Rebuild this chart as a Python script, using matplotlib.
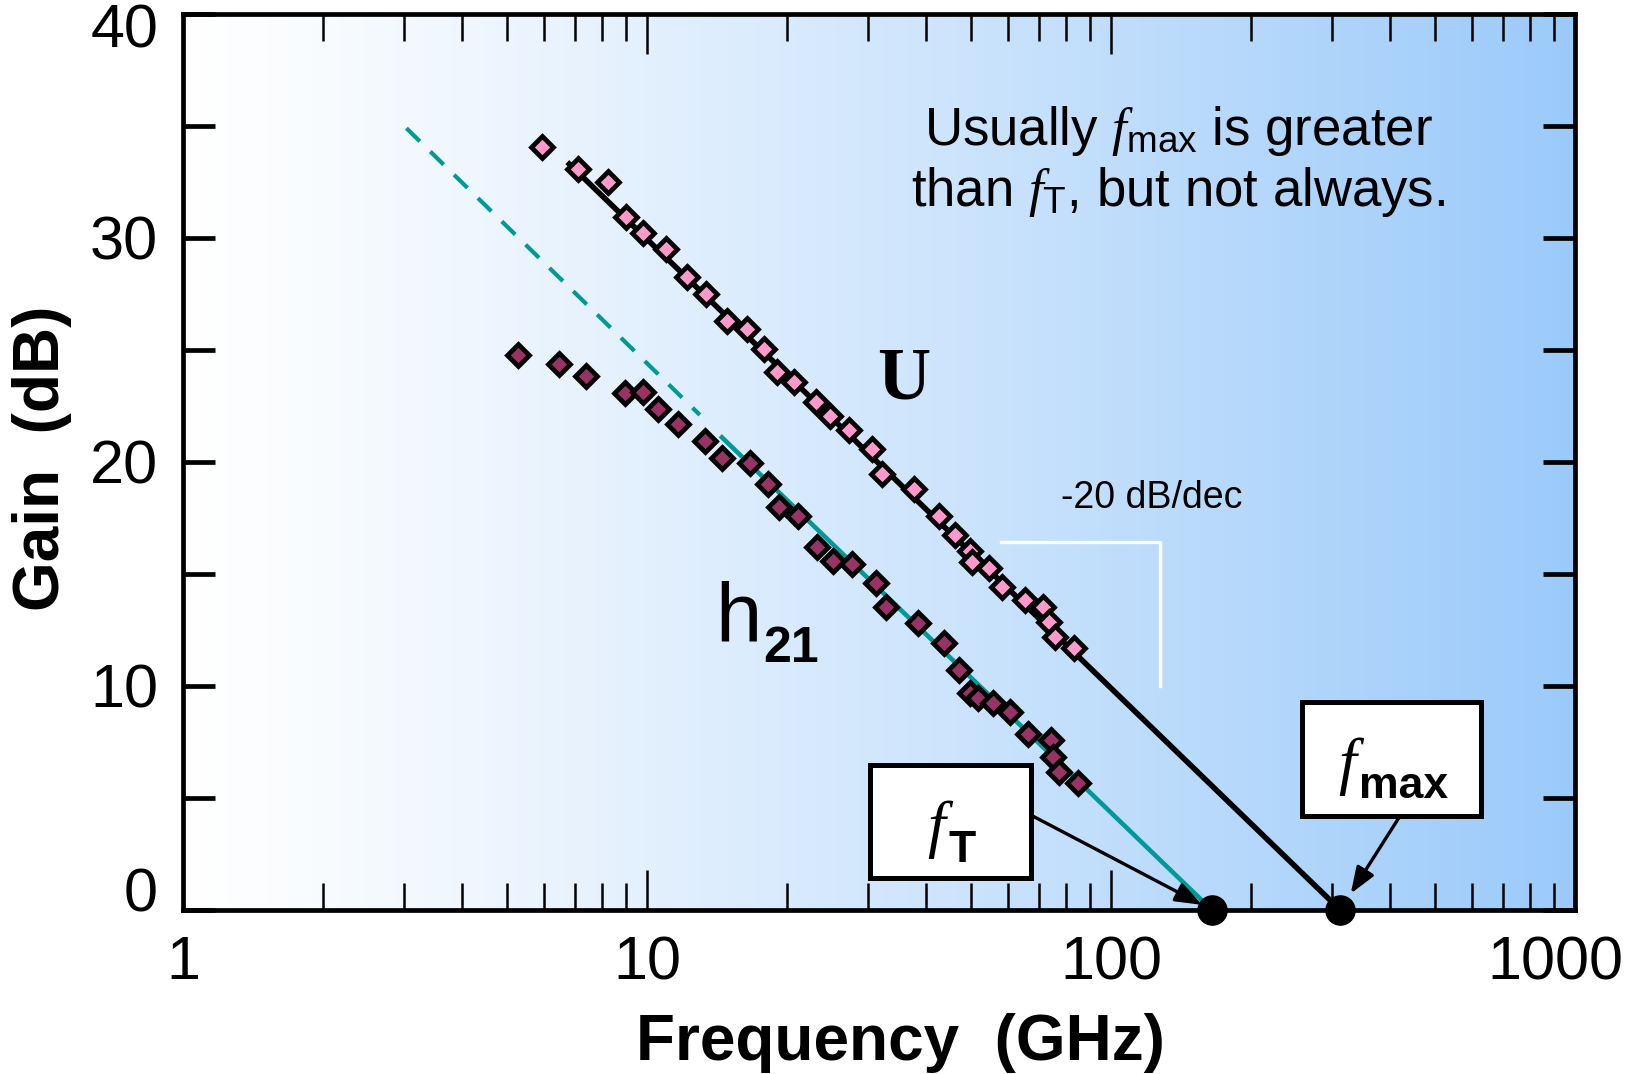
import numpy as np
import matplotlib
matplotlib.use("Agg")
import matplotlib.pyplot as plt
import matplotlib.patches as patches
from matplotlib.transforms import ScaledTranslation
from matplotlib.ticker import FixedLocator, LogLocator, FuncFormatter, NullFormatter

plt.rcParams['font.family'] = ['Liberation Sans', 'DejaVu Sans']
plt.rcParams['mathtext.fontset'] = 'custom'
plt.rcParams['mathtext.rm'] = 'Liberation Sans'
plt.rcParams['mathtext.it'] = 'Liberation Serif:italic'
plt.rcParams['mathtext.bf'] = 'Liberation Sans:bold'

# measured data (GHz, dB)
u_freq = [5.93, 7.11, 8.26, 9.01, 9.79, 10.99, 12.21, 13.4, 14.9, 16.4,
          17.9, 19.1, 20.7, 23.1, 24.8, 27.2, 30.6, 32.1, 37.6, 42.5,
          46.1, 49.7, 50.1, 54.7, 58.1, 65.4, 71.2, 73.6, 75.7, 83.2]
u_gain = [34.05, 33.07, 32.51, 30.94, 30.21, 29.49, 28.26, 27.49, 26.31, 25.95,
          25.04, 24.0, 23.56, 22.66, 22.07, 21.43, 20.58, 19.46, 18.78, 17.6,
          16.74, 16.04, 15.55, 15.25, 14.43, 13.84, 13.51, 12.87, 12.2, 11.68]

h21_freq = [5.26, 6.46, 7.39, 8.97, 9.79, 10.56, 11.65, 13.36, 14.49, 16.67,
            18.25, 19.28, 21.2, 23.2, 25.2, 27.7, 31.2, 32.7, 38.4, 43.7,
            47.0, 49.7, 51.8, 55.7, 60.6, 66.3, 74.1, 75.1, 77.3, 85.0]
h21_gain = [24.78, 24.36, 23.84, 23.09, 23.11, 22.37, 21.68, 20.94, 20.19, 19.94,
            19.03, 18.0, 17.59, 16.22, 15.58, 15.43, 14.61, 13.54, 12.83, 11.9,
            10.71, 9.7, 9.45, 9.26, 8.85, 7.86, 7.59, 6.85, 6.17, 5.65]

# -20 dB/dec fits
u_fit_freq = [6.8, 312]
u_fit_gain = [33.3, 0]
h21_dash_freq = [3.03, 13.0]
h21_dash_gain = [34.9, 22.1]
h21_fit_freq = [14.5, 165]
h21_fit_gain = [21.1, 0]

f_t = 165
f_max = 312

# slope guide
slope_freq = [57.8, 127.5, 127.5]
slope_gain = [16.44, 16.44, 10.0]

x_ticks = [1, 10, 100, 1000]
y_ticks = [0, 10, 20, 30, 40]
y_minor = [5, 15, 25, 35]

teal = '#009999'
rect = [0.1114, 0.1527, 0.8472, 0.8343]

fig = plt.figure(figsize=(16.43, 10.74), dpi=100)

# gradient background
bg = fig.add_axes(rect, zorder=0)
t = np.linspace(0, 1, 400) ** 1.15
c0 = np.array([1.0, 1.0, 1.0])
c1 = np.array([155, 202, 250]) / 255
img = c0 + (c1 - c0) * t[:, None]
bg.imshow(img[None, :, :], aspect='auto', extent=[0, 1, 0, 1])
bg.axis('off')

ax = fig.add_axes(rect, zorder=1)
ax.set_facecolor('none')
ax.set_xscale('log')
ax.set_xlim(1, 1000)
ax.set_ylim(0, 40)

ax.plot(h21_dash_freq, h21_dash_gain, color=teal, lw=3, dashes=(4.5, 3.5), zorder=2)
ax.plot(h21_fit_freq, h21_fit_gain, color=teal, lw=3.3, zorder=2)
ax.plot(u_fit_freq, u_fit_gain, color='black', lw=4, zorder=2)
ax.plot(slope_freq, slope_gain, color='white', lw=2.4, zorder=2)

ax.plot(u_freq, u_gain, 'D', ms=10.7, mfc='#FF99CC', mec='black', mew=3.4, ls='none', zorder=3)
ax.plot(h21_freq, h21_gain, 'D', ms=10.7, mfc='#993366', mec='black', mew=3.4, ls='none', zorder=3)
ax.plot([f_t, f_max], [0, 0], 'o', ms=21, color='black', clip_on=False, zorder=8)

# ticks; the end labels are nudged inward like the original, so they are drawn by hand
ends_x = {x_ticks[-1]}
ends_y = {y_ticks[0], y_ticks[-1]}
ax.xaxis.set_major_locator(FixedLocator(x_ticks))
ax.xaxis.set_minor_locator(LogLocator(base=10, subs=np.arange(2, 10)))
ax.xaxis.set_major_formatter(FuncFormatter(lambda v, p: '' if v in ends_x else f'{v:g}'))
ax.xaxis.set_minor_formatter(NullFormatter())
ax.yaxis.set_major_locator(FixedLocator(y_ticks))
ax.yaxis.set_minor_locator(FixedLocator(y_minor))
ax.yaxis.set_major_formatter(FuncFormatter(lambda v, p: '' if v in ends_y else f'{v:g}'))
ax.tick_params(axis='x', which='major', direction='in', length=29, width=1.8,
               top=True, labelsize=44, pad=18)
ax.tick_params(axis='x', which='minor', direction='in', length=19.5, width=1.8, top=True)
ax.tick_params(axis='y', which='both', direction='in', length=23, width=3.4,
               right=True, labelsize=44, pad=18)
for s in ax.spines.values():
    s.set_linewidth(3.4)

def nudge(dx, dy):
    return ScaledTranslation(dx / 72, dy / 72, fig.dpi_scale_trans)

ax.text(0, 0, f'{y_ticks[0]:g}', transform=ax.transAxes + nudge(-18, 10),
        ha='right', va='center', fontsize=44)
ax.text(0, 1, f'{y_ticks[-1]:g}', transform=ax.transAxes + nudge(-18, -13),
        ha='right', va='center', fontsize=44)
ax.text(1, 0, f'{x_ticks[-1]:g}', transform=ax.transAxes + nudge(-14, -18),
        ha='center', va='top', fontsize=44)

fig.text(0.5478, 0.0289, 'Frequency  (GHz)', ha='center', va='center',
         fontsize=46, fontweight='bold')
fig.text(0.0256, 0.5736, 'Gain  (dB)', ha='center', va='center', rotation=90,
         fontsize=46, fontweight='bold')

# annotations
ax.text(0.7148, 0.8542, r'Usually $f_{\mathrm{max}}$ is greater', transform=ax.transAxes,
        ha='center', va='baseline', fontsize=38, zorder=5)
ax.text(0.7148, 0.7857, r'than $f_{\mathrm{T}}$, but not always.', transform=ax.transAxes,
        ha='center', va='baseline', fontsize=38, zorder=5)
ax.text(0.518, 0.5714, 'U', transform=ax.transAxes, ha='center', va='baseline',
        fontsize=53, fontweight='bold', family='Liberation Serif', zorder=5)
ax.text(0.3822, 0.3002, 'h', transform=ax.transAxes, ha='left', va='baseline',
        fontsize=60, zorder=5)
ax.text(0.4167, 0.2768, '21', transform=ax.transAxes, ha='left', va='baseline',
        fontsize=36, fontweight='bold', zorder=5)
ax.text(0.6307, 0.4487, '-20 dB/dec', transform=ax.transAxes, ha='left', va='baseline',
        fontsize=27, zorder=5)

# label boxes: rectangle, italic f, bold subscript
boxes = [((0.4935, 0.0357), 0.1155, 0.1261, (0.5414, 0.0725), 'T', (0.5496, 0.0536)),
         ((0.804, 0.1049), 0.1285, 0.1272, (0.8366, 0.1429), 'max', (0.8448, 0.125))]
for (x0, y0), w, h, fpos, sub, spos in boxes:
    ax.add_patch(patches.Rectangle((x0, y0), w, h, transform=ax.transAxes, fc='white',
                                   ec='black', lw=3.6, zorder=6, clip_on=False))
    ax.text(fpos[0], fpos[1], 'f', transform=ax.transAxes, ha='center', va='baseline',
            fontsize=46, family='Liberation Serif', style='italic', zorder=7)
    ax.text(spos[0], spos[1], sub, transform=ax.transAxes, ha='left', va='baseline',
            fontsize=32, fontweight='bold', zorder=7)

arrow = dict(arrowstyle='-|>,head_length=0.8,head_width=0.3', mutation_scale=20,
             lw=2.4, color='black', shrinkA=0)
ax.annotate('', xy=(f_t, 0), xycoords='data', xytext=(0.609, 0.106),
            textcoords='axes fraction', arrowprops=dict(arrow, shrinkB=8),
            annotation_clip=False, zorder=7)
ax.annotate('', xy=(f_max, 0), xycoords='data', xytext=(0.8743, 0.1049),
            textcoords='axes fraction', arrowprops=dict(arrow, shrinkB=14),
            annotation_clip=False, zorder=7)

fig.savefig('out.png', dpi=100)
